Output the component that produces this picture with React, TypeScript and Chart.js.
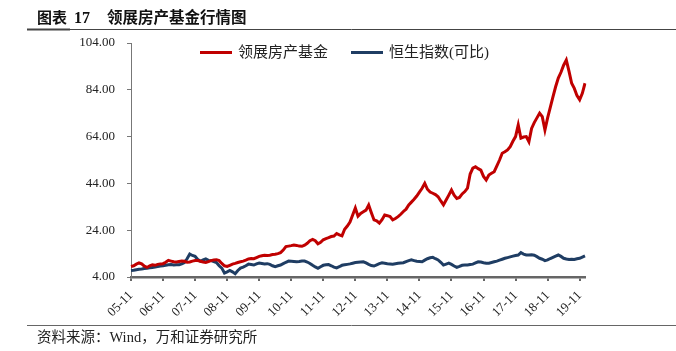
import React, { useEffect, useRef } from "react";
import { Chart, registerables } from "chart.js";

Chart.register(...registerables);

// Year tick labels shown on the x axis (every 12 months, starting 2005-11)
const tickLabels = ["05-11", "06-11", "07-11", "08-11", "09-11", "10-11", "11-11", "12-11", "13-11", "14-11", "15-11", "16-11", "17-11", "18-11", "19-11"];

// Monthly values, 2005-11 .. 2020-01
const linkReit = [
  8.5, 8.8, 9.5, 10.0, 9.6, 8.6, 8.1, 8.8, 9.2, 9.0, 9.4, 9.6,
  9.7, 10.3, 11.1, 10.8, 10.5, 10.4, 10.6, 10.8, 10.7, 10.3, 10.4, 10.8,
  11.0, 11.0, 10.7, 10.4, 10.2, 10.6, 11.0, 11.3, 11.4, 11.0, 9.8, 8.8,
  8.5, 9.0, 9.5, 9.8, 10.2, 10.5, 10.8, 11.2, 11.7, 11.9, 11.8, 12.3,
  12.8, 13.1, 13.3, 13.2, 13.3, 13.6, 13.7, 14.0, 14.4, 15.5, 17.0, 17.2,
  17.4, 17.7, 17.5, 17.2, 17.1, 17.6, 18.4, 19.5, 20.1, 19.5, 18.2, 18.8,
  19.9, 20.4, 20.8, 21.3, 21.5, 22.6, 22.0, 21.6, 24.4, 25.8, 27.5, 30.5,
  33.5, 30.0, 31.2, 31.9, 32.6, 34.8, 31.5, 28.4, 28.0, 27.0, 28.5, 30.5,
  30.2, 29.8, 28.4, 29.0, 29.8, 30.8, 32.0, 33.0, 34.8, 36.0, 37.2, 38.6,
  40.3, 41.9, 44.0, 41.5, 40.3, 39.8, 39.2, 38.3, 36.5, 34.8, 36.9, 39.0,
  41.2, 39.0, 37.6, 38.0, 39.5, 40.5, 42.0, 48.0, 50.5, 51.1, 50.3, 49.7,
  47.0, 45.5, 47.6, 48.3, 49.0, 51.5, 54.0, 56.9, 57.5, 58.3, 59.7, 62.0,
  64.0, 69.0, 63.3, 63.8, 64.0, 61.8, 67.5, 70.0, 72.0, 74.0, 72.5, 66.8,
  72.0, 76.5, 81.0, 85.3, 89.0, 91.5, 94.5, 96.7, 92.0, 86.8, 84.6, 81.5,
  79.7, 82.5, 86.8,
];

const hangSeng = [
  6.8, 6.9, 7.1, 7.3, 7.4, 7.6, 7.7, 7.9, 8.1, 8.3, 8.5, 8.7,
  8.8, 9.0, 9.2, 9.3, 9.1, 9.2, 9.2, 9.6, 10.2, 11.8, 13.8, 13.2,
  12.8, 11.5, 10.7, 11.3, 11.7, 11.1, 11.0, 10.6, 10.2, 8.8, 7.8, 5.7,
  6.2, 6.8, 6.2, 5.4, 6.8, 7.8, 8.2, 8.8, 9.5, 9.3, 9.1, 9.6,
  10.0, 9.8, 9.6, 9.7, 9.4, 8.8, 8.4, 8.8, 9.1, 9.7, 10.3, 10.8,
  10.7, 10.6, 10.5, 10.6, 10.8, 10.8, 10.4, 9.8, 9.0, 8.3, 7.7, 8.4,
  9.0, 9.2, 9.3, 8.8, 8.2, 7.9, 8.4, 9.0, 9.2, 9.4, 9.6, 9.9,
  10.2, 10.3, 10.4, 10.5, 10.0, 9.4, 8.9, 8.7, 9.2, 9.7, 10.1, 9.9,
  9.7, 9.6, 9.5, 9.7, 9.9, 10.0, 10.1, 10.6, 11.0, 11.3, 11.0, 10.7,
  10.6, 10.5, 11.2, 11.8, 12.2, 12.4, 11.8, 11.3, 10.3, 9.1, 9.5, 9.9,
  9.4, 8.7, 8.1, 8.5, 9.0, 9.1, 9.1, 9.3, 9.5, 10.0, 10.5, 10.4,
  10.1, 9.9, 9.9, 10.2, 10.5, 10.8, 11.2, 11.6, 12.0, 12.3, 12.6, 12.9,
  13.2, 13.4, 14.4, 13.8, 13.4, 13.4, 13.5, 13.3, 12.7, 12.0, 11.6, 11.0,
  11.3, 11.9, 12.4, 12.9, 13.4, 12.8, 12.0, 11.7, 11.5, 11.6, 11.5, 11.8,
  12.0, 12.5, 13.0,
];

const seriesNames = ["领展房产基金", "恒生指数(可比)"];
const seriesColors = ["#C00000", "#1F3D63"];
const yTicks = [4, 24, 44, 64, 84, 104];

const titleLabel = "图表";
const titleNumber = "17";
const titleText = "领展房产基金行情图";
const sourceText = "资料来源：Wind，万和证券研究所";

const categories: string[] = linkReit.map((_, i) => {
  const total = 2005 * 12 + 10 + i;
  const y = Math.floor(total / 12);
  const m = (total % 12) + 1;
  return `${y}-${String(m).padStart(2, "0")}`;
});

const SERIF = "'Liberation Serif', 'Times New Roman', 'Noto Sans CJK SC', serif";
const CJK = "'Liberation Serif', 'Noto Sans CJK SC', serif";

const decorPlugin = {
  id: "decor",
  afterDraw(chart: any) {
    const ctx = chart.ctx as CanvasRenderingContext2D;
    ctx.save();
    // Title
    ctx.fillStyle = "#111";
    ctx.textBaseline = "alphabetic";
    ctx.font = `bold 15px 'Noto Sans CJK SC', sans-serif`;
    ctx.fillText(titleLabel, 37, 23);
    ctx.font = `bold 16px ${SERIF}`;
    ctx.fillText(titleNumber, 74, 23);
    ctx.font = `bold 15.5px 'Noto Sans CJK SC', sans-serif`;
    ctx.fillText(titleText, 107, 23);
    // title rule
    ctx.strokeStyle = "#444";
    ctx.lineWidth = 1;
    ctx.beginPath();
    ctx.moveTo(27, 29.5);
    ctx.lineTo(676, 29.5);
    ctx.stroke();
    ctx.lineWidth = 2;
    ctx.beginPath();
    ctx.moveTo(27, 29.5);
    ctx.lineTo(70, 29.5);
    ctx.stroke();
    // footer rule
    ctx.strokeStyle = "#666";
    ctx.lineWidth = 1;
    ctx.beginPath();
    ctx.moveTo(27, 325.5);
    ctx.lineTo(676, 325.5);
    ctx.stroke();
    // footer text
    ctx.fillStyle = "#222";
    ctx.font = `14.5px ${CJK}`;
    ctx.textBaseline = "middle";
    ctx.fillText(sourceText, 37, 338);

    // Legend
    ctx.font = `15px ${CJK}`;
    ctx.textBaseline = "middle";
    let x = 200;
    const ly = 52.5;
    chart.data.datasets.forEach((ds: any) => {
      ctx.strokeStyle = ds.borderColor;
      ctx.lineWidth = 3;
      ctx.beginPath();
      ctx.moveTo(x, ly);
      ctx.lineTo(x + 32, ly);
      ctx.stroke();
      ctx.fillStyle = "#222";
      ctx.fillText(ds.label, x + 38, ly + 1);
      x += 38 + ctx.measureText(ds.label).width + 23;
    });
    ctx.restore();
  },
};

export default function App() {
  const ref = useRef<HTMLCanvasElement>(null);
  useEffect(() => {
    if (!ref.current) return;
    const chart = new Chart(ref.current, {
      type: "line",
      data: {
        labels: categories,
        datasets: [
          {
            label: seriesNames[0],
            data: linkReit,
            borderColor: seriesColors[0],
            backgroundColor: seriesColors[0],
            borderWidth: 3,
            pointRadius: 0,
            tension: 0,
          },
          {
            label: seriesNames[1],
            data: hangSeng,
            borderColor: seriesColors[1],
            backgroundColor: seriesColors[1],
            borderWidth: 3,
            pointRadius: 0,
            tension: 0,
          },
        ],
      },
      options: {
        responsive: false,
        animation: false,
        devicePixelRatio: 1,
        layout: { padding: { left: 78, right: 91, top: 43, bottom: 0 } },
        plugins: { legend: { display: false }, tooltip: { enabled: false } },
        scales: {
          x: {
            type: "category",
            offset: false,
            afterFit: (s: any) => {
              s.height = 74;
            },
            border: { display: true, color: "#666", width: 2.5 },
            grid: {
              display: true,
              drawOnChartArea: false,
              drawTicks: true,
              tickLength: 4,
              color: "#666",
              lineWidth: 2,
            },
            ticks: {
              autoSkip: false,
              maxRotation: 45,
              minRotation: 45,
              padding: 7,
              color: "#222",
              font: { family: SERIF, size: 13 },
              callback: (_v: any, i: number) => (i % 12 === 0 ? tickLabels[i / 12] : null),
            },
          },
          y: {
            min: 4,
            max: 104,
            afterFit: (s: any) => {
              s.width = 53;
            },
            afterBuildTicks: (s: any) => {
              s.ticks = yTicks.map((v) => ({ value: v }));
            },
            border: { display: true, color: "#777", width: 1 },
            grid: {
              display: true,
              drawOnChartArea: false,
              drawTicks: true,
              tickLength: 4,
              color: "#777",
              lineWidth: 1,
            },
            ticks: {
              padding: 12,
              color: "#222",
              font: { family: SERIF, size: 13 },
              callback: (v: any) => Number(v).toFixed(2),
            },
          },
        },
      },
      plugins: [decorPlugin],
    });
    return () => chart.destroy();
  }, []);

  return (
    <div style={{ position: "fixed", left: 0, top: 0, width: 676, height: 351, background: "#fff" }}>
      <canvas ref={ref} width={676} height={351} style={{ width: 676, height: 351, display: "block" }} />
    </div>
  );
}
